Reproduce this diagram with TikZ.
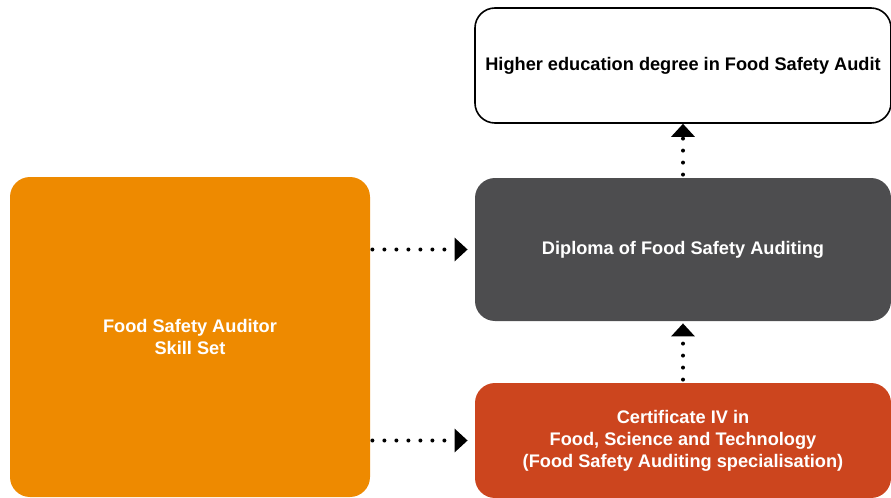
\documentclass[tikz,border=0pt]{standalone}
\usepackage{fontspec}
\setmainfont{Liberation Sans}
\usetikzlibrary{arrows.meta}
\definecolor{skillorange}{HTML}{EE8A00}
\definecolor{diplomagrey}{HTML}{4D4D4F}
\definecolor{certred}{HTML}{CC451E}
\tikzset{
  stagebox/.style={rounded corners=10pt, align=center, inner sep=0pt,
    font=\fontsize{9.1}{11}\selectfont\bfseries},
  pathway/.style={line width=2pt, line cap=round, dash pattern=on 0pt off 6pt,
    -{Triangle[length=6.5pt,width=11.5pt]}},
}
\begin{document}
\begin{tikzpicture}[x=0.5pt,y=-0.5pt]
    \useasboundingbox (0,0) rectangle (891,498);
    \node [stagebox, fill=skillorange, text=white, minimum width=180pt, minimum height=160pt] (skill) at (190,337) {Food Safety Auditor\\Skill Set};
    \node [stagebox, draw=black, line width=0.8pt, fill=white, minimum width=208pt, minimum height=57.5pt] (degree) at (683,65.5) {Higher education degree in Food Safety Audit};
    \node [stagebox, fill=diplomagrey, text=white, minimum width=208pt, minimum height=71.5pt] (diploma) at (683,249.5) {Diploma of Food Safety Auditing};
    \node [stagebox, fill=certred, text=white, minimum width=208pt, minimum height=57.5pt] (cert) at (683,440.5) {Certificate IV in\\Food, Science and Technology\\(Food Safety Auditing specialisation)};
    \draw [pathway, shorten <=1pt, shorten >=3.5pt] (skill.east |- diploma.west) -- (diploma.west);
    \draw [pathway, shorten <=1pt, shorten >=3.5pt] (skill.east |- cert.west) -- (cert.west);
    \draw [pathway, shorten <=1.5pt, shorten >=1pt] (cert.north) -- (diploma.south);
    \draw [pathway, shorten <=1.5pt] (diploma.north) -- (degree.south);
\end{tikzpicture}
\end{document}
